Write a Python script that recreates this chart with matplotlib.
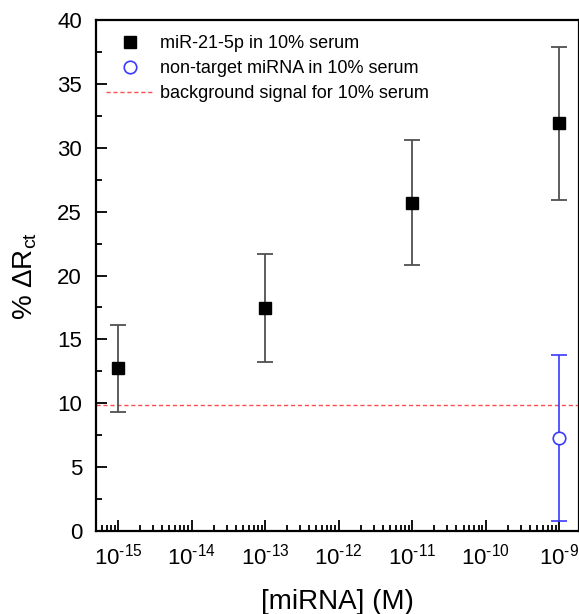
import numpy as np
import matplotlib
matplotlib.use("Agg")
import matplotlib.pyplot as plt
from matplotlib.ticker import LogLocator, MultipleLocator, FuncFormatter

plt.rcParams["font.family"] = ["Liberation Sans", "DejaVu Sans"]
plt.rcParams["mathtext.fontset"] = "custom"
plt.rcParams["mathtext.rm"] = "Liberation Sans"
plt.rcParams["mathtext.it"] = "Liberation Sans:italic"

# miR-21-5p in 10% serum
target_conc = [1e-15, 1e-13, 1e-11, 1e-9]
target_dr = [12.75, 17.45, 25.7, 31.9]
target_err = [3.4, 4.2, 4.9, 6.0]

# non-target miRNA in 10% serum
nontarget_conc = [1e-9]
nontarget_dr = [7.3]
nontarget_err = [6.5]

background = 9.9

x_decades = [1e-15, 1e-14, 1e-13, 1e-12, 1e-11, 1e-10, 1e-9]

fig = plt.figure(figsize=(5.79, 6.14), dpi=100)
ax = fig.add_axes([96 / 579, 83 / 614, 483 / 579, 511 / 614])

ax.errorbar(target_conc, target_dr, yerr=target_err, fmt="none",
            ecolor="#505050", elinewidth=1.3, capsize=5.5, capthick=1.3)
ax.plot(target_conc, target_dr, "s", color="black", markersize=8,
        label="miR-21-5p in 10% serum")
ax.errorbar(nontarget_conc, nontarget_dr, yerr=nontarget_err, fmt="none",
            ecolor="#3a3aff", elinewidth=1.2, capsize=5.5, capthick=1.2)
ax.plot(nontarget_conc, nontarget_dr, "o", markerfacecolor="white",
        markeredgecolor="#3a3aff", markeredgewidth=1.2, markersize=9,
        label="non-target miRNA in 10% serum")
ax.axhline(background, color="#ff4d4d", linestyle=(0, (3, 2)), linewidth=1.0,
           label="background signal for 10% serum", zorder=1)


def decade(v, pos):
    return r"10$^{\text{%d}}$" % round(np.log10(v))


ax.set_xscale("log")
ax.set_xlim(10 ** -15.3, 10 ** -8.73)
ax.set_ylim(0, 40)
ax.set_xticks(x_decades)
ax.xaxis.set_minor_locator(LogLocator(base=10, subs=np.arange(2, 10), numticks=20))
ax.xaxis.set_major_formatter(FuncFormatter(decade))
ax.yaxis.set_major_locator(MultipleLocator(5))
ax.yaxis.set_minor_locator(MultipleLocator(2.5))

ax.tick_params(which="both", direction="in", top=False, right=False,
               width=1.3, labelsize=16)
ax.tick_params(axis="y", pad=10)
ax.tick_params(axis="x", pad=9)
ax.tick_params(which="major", length=8)
ax.tick_params(which="minor", length=4.5)
for s in ax.spines.values():
    s.set_linewidth(1.6)

ax.set_xlabel("[miRNA] (M)", fontsize=20, labelpad=14)
ax.set_ylabel(r"% $\Delta$R$_{\rm ct}$", fontsize=20, labelpad=13)

ax.legend(loc="upper left", frameon=False, fontsize=13, handlelength=2.6,
          handletextpad=0.4, labelspacing=0.45, borderaxespad=0.0,
          bbox_to_anchor=(3 / 483, 0.985))

fig.savefig("out.png", dpi=100)
